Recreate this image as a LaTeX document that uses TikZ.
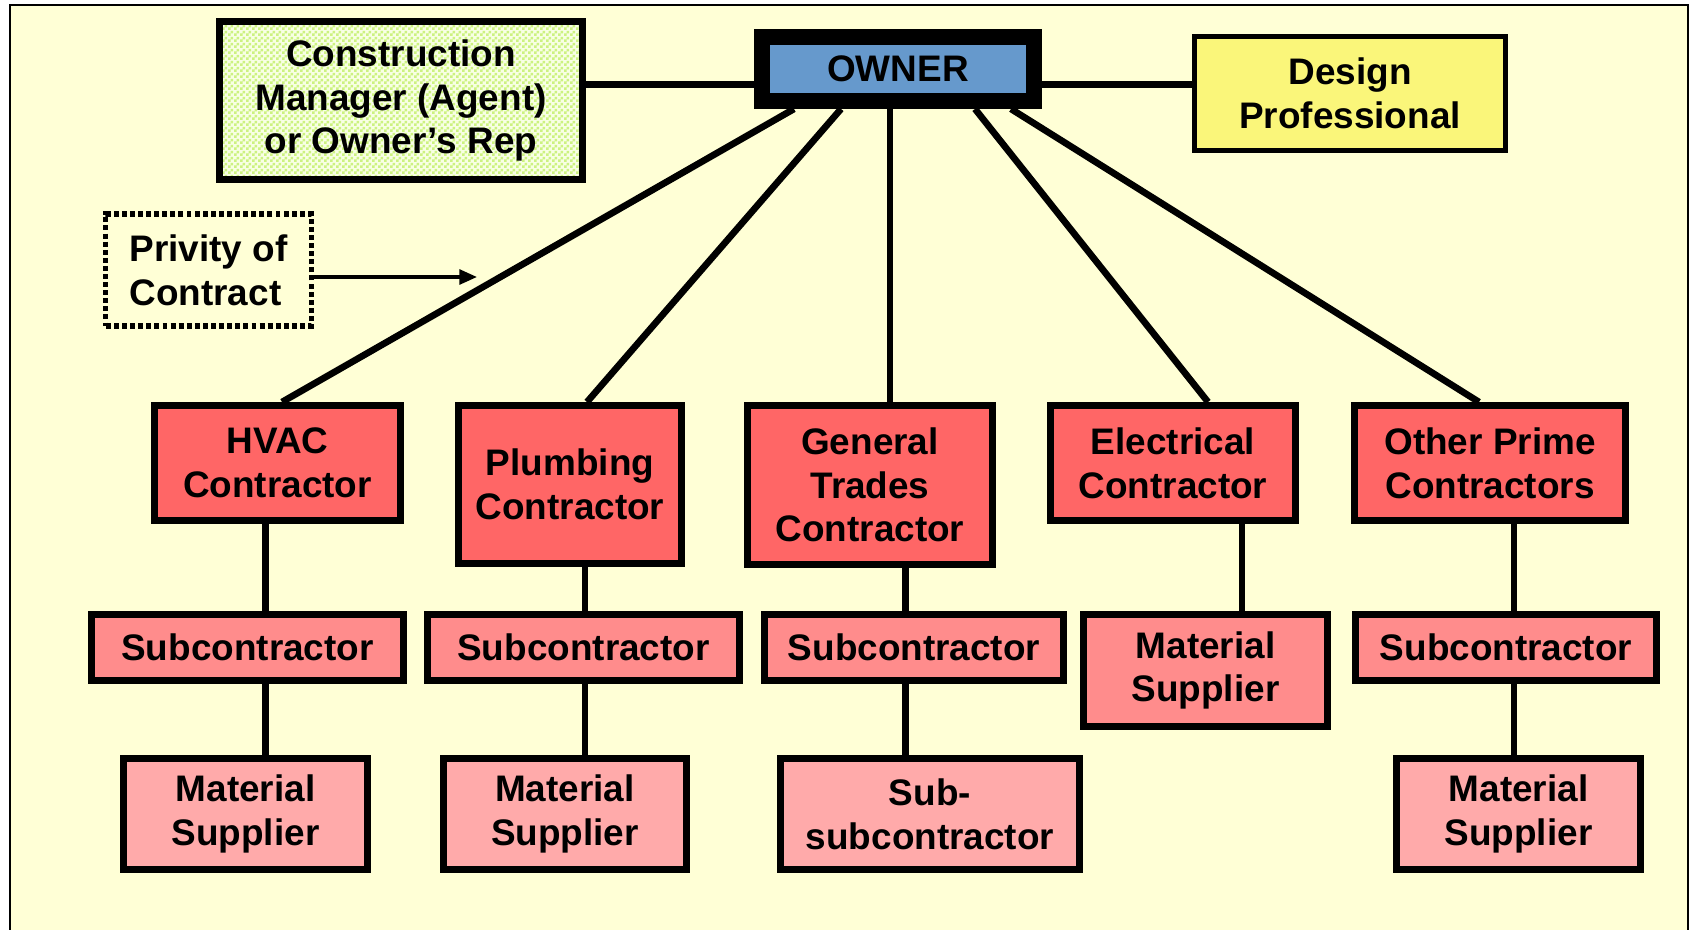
\documentclass[tikz,border=0pt]{standalone}
\usepackage{fontspec}
\setmainfont{Liberation Sans}
\usetikzlibrary{arrows.meta, positioning, calc, patterns}
\definecolor{paper}{RGB}{255,255,214}
\definecolor{ownerblue}{RGB}{102,153,204}
\definecolor{designyellow}{RGB}{250,246,122}
\definecolor{cmgreen}{RGB}{204,242,128}
\definecolor{cmlight}{RGB}{248,255,228}
\definecolor{primered}{RGB}{255,102,102}
\definecolor{subred}{RGB}{255,140,140}
\definecolor{supplyred}{RGB}{255,170,170}
\pgfdeclarepatternformonly{smallchecks}{\pgfpointorigin}{\pgfqpoint{1.708pt}{1.708pt}}{\pgfqpoint{1.708pt}{1.708pt}}{%
  \pgfpathrectangle{\pgfpointorigin}{\pgfqpoint{0.854pt}{0.854pt}}%
  \pgfpathrectangle{\pgfqpoint{0.854pt}{0.854pt}}{\pgfqpoint{0.854pt}{0.854pt}}%
  \pgfusepath{fill}}

\begin{document}
\begin{tikzpicture}[x=0.01cm, y=-0.01cm,
    caja/.style={rectangle, draw, line width=2.1pt, align=center, font=\bfseries\fontsize{10.5}{12.4}\selectfont},
    prime/.style={caja, fill=primered},
    sub/.style={caja, fill=subred, minimum height=0.655cm},
    supply/.style={caja, fill=supplyred, minimum height=1.105cm},
    link/.style={line width=1.9pt}]

    \useasboundingbox (0,0) rectangle (1690,930);
    \fill[white] (0,0) rectangle (1690,930);
    \draw[fill=paper, line width=0.6pt] (10,5) rectangle (1688,945);

    \node[caja, line width=4.5pt, fill=ownerblue, minimum width=2.72cm, minimum height=0.64cm] (owner) at (898,69) {OWNER};
    \node[caja, line width=2pt, preaction={fill=cmlight}, pattern=smallchecks, pattern color=cmgreen, minimum width=3.63cm, minimum height=1.58cm] (cm) at (401,100.5) {Construction\\Manager (Agent)\\or Owner’s Rep};
    \node[caja, line width=1.45pt, fill=designyellow, minimum width=3.11cm, minimum height=1.14cm] (dp) at (1350,93.5) {Design\\Professional};
    \node[caja, line width=1.45pt, dash pattern=on 1.4pt off 0.9pt, align=left, inner xsep=2pt, minimum width=2.05cm, minimum height=1.12cm] (priv) at (208.5,270) {Privity of\\Contract};

    \node[prime, minimum width=2.455cm, minimum height=1.145cm] (hvac) at (277.5,463) {HVAC\\Contractor};
    \node[prime, minimum width=2.225cm, minimum height=1.575cm] (plumb) at (570,484.5) {Plumbing\\Contractor};
    \node[prime, minimum width=2.445cm, minimum height=1.585cm] (gtrades) at (870,485) {General\\Trades\\Contractor};
    \node[prime, minimum width=2.445cm, minimum height=1.145cm] (elec) at (1173,463) {Electrical\\Contractor};
    \node[prime, minimum width=2.705cm, minimum height=1.145cm] (other) at (1490,463) {Other Prime\\Contractors};

    \node[sub, minimum width=3.115cm] (hvacsub) at (247.5,647.5) {Subcontractor};
    \node[sub, minimum width=3.115cm] (plumbsub) at (583.5,647.5) {Subcontractor};
    \node[sub, minimum width=2.985cm] (gtsub) at (914,647.5) {Subcontractor};
    \node[caja, fill=subred, minimum width=2.435cm, minimum height=1.115cm] (elecms) at (1205.5,670.5) {Material\\Supplier};
    \node[sub, minimum width=3.005cm] (othersub) at (1506,647.5) {Subcontractor};

    \node[supply, minimum width=2.435cm] (hvacms) at (245.5,814) {Material\\Supplier};
    \node[supply, minimum width=2.425cm] (plumbms) at (565,814) {Material\\Supplier};
    \node[supply, minimum width=2.985cm] (subsub) at (930,814) {Sub-\\subcontractor};
    \node[supply, minimum width=2.435cm] (otherms) at (1518.5,814) {Material\\Supplier};

    \coordinate (colA) at (265.5,0);
    \coordinate (colB) at (585,0);
    \coordinate (colC) at (905.5,0);
    \coordinate (colD) at (1242,0);
    \coordinate (colE) at (1514,0);
    \coordinate (privend) at (477,277);

    \draw[link] ($(owner.west)+(0,15.5)$) coordinate (ol) -- (ol -| cm.east);
    \draw[link] ($(owner.east)+(0,15.5)$) coordinate (or) -- (or -| dp.west);

    \draw[link] ($(owner.south)+(-104,0)$) -- ($(hvac.north)+(4.5,0)$);
    \draw[link] ($(owner.south)+(-57,0)$) -- ($(plumb.north)+(17,0)$);
    \draw[link] ($(owner.south)+(-8,0)$) coordinate (og) -- (og |- gtrades.north);
    \draw[link] ($(owner.south)+(77,0)$) -- ($(elec.north)+(35,0)$);
    \draw[link] ($(owner.south)+(113,0)$) -- ($(other.north)+(-11,0)$);

    \draw[link] (hvac.south -| colA) -- (hvacsub.north -| colA);
    \draw[link] (hvacsub.south -| colA) -- (hvacms.north -| colA);
    \draw[link] (plumb.south -| colB) -- (plumbsub.north -| colB);
    \draw[link] (plumbsub.south -| colB) -- (plumbms.north -| colB);
    \draw[link] (gtrades.south -| colC) -- (gtsub.north -| colC);
    \draw[link] (gtsub.south -| colC) -- (subsub.north -| colC);
    \draw[link] (elec.south -| colD) -- (elecms.north -| colD);
    \draw[link] (other.south -| colE) -- (othersub.north -| colE);
    \draw[link] (othersub.south -| colE) -- (otherms.north -| colE);

    \draw[line width=0.95pt, -{Triangle[length=5pt, width=4.2pt]}] (priv.east |- privend) -- (privend);
\end{tikzpicture}
\end{document}
